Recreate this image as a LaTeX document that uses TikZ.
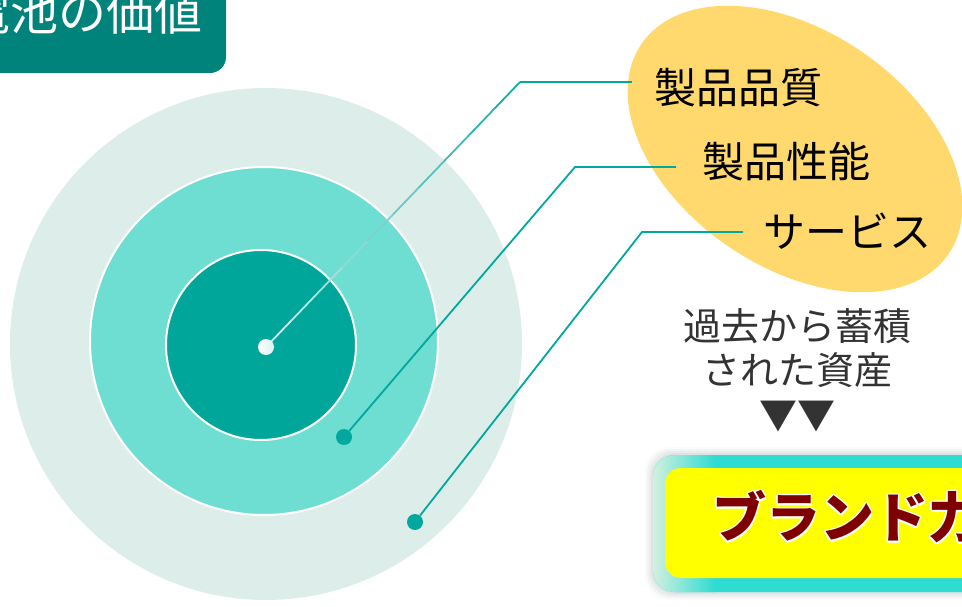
\documentclass[tikz,border=0pt]{standalone}
\usepackage{fontspec}
\newfontfamily\jp{Noto Sans CJK JP}
\usetikzlibrary{shapes.geometric,calc}
\definecolor{outerc}{HTML}{DDEEEA}
\definecolor{midc}{HTML}{6EDDD2}
\definecolor{innerc}{HTML}{00A69A}
\definecolor{linec}{HTML}{00A89E}
\definecolor{titlec}{HTML}{00837A}
\definecolor{ellc}{HTML}{FFD96E}
\definecolor{turq}{HTML}{2EDCD2}
\definecolor{palet}{HTML}{D2F0DE}
\definecolor{brandred}{HTML}{7F0000}
\definecolor{greytext}{HTML}{333333}
\definecolor{brandyellow}{HTML}{FFFF00}
\begin{document}
\begin{tikzpicture}[x=1pt,y=-1pt,
  conn/.style={linec,line width=1.8},
  dotc/.style={circle,fill=linec,minimum size=16,inner sep=0},
  lbl/.style={inner sep=0,font=\jp\fontsize{42}{48}\selectfont},
  sub/.style={inner sep=0,text=greytext,font=\jp\fontsize{38}{44}\selectfont},
  brand/.style={inner sep=0,anchor=west,font=\jp\bfseries\fontsize{54}{60}\selectfont}]
\useasboundingbox (0,0) rectangle (962,607);
\clip (0,0) rectangle (962,607);

% title box
\fill[titlec, rounded corners=16] (-40,-40) rectangle (226,73);
\node[anchor=east, inner sep=0, text=white, font=\jp\fontsize{48}{54}\selectfont] (title) at (203,12) {電池の価値};

% concentric circles
\node[circle, fill=outerc, minimum size=512, inner sep=0] (outer) at (266,344) {};
\node[circle, fill=midc, draw=white, line width=2, minimum size=348, inner sep=0] (mid) at (264,341) {};
\node[circle, fill=innerc, draw=white, line width=2, minimum size=190, inner sep=0] (inner) at (261,345) {};

% ellipse
\node[ellipse, fill=ellc, minimum width=372, minimum height=236, rotate=-34.4, inner sep=0] (ell) at (795,149) {};

% connectors
\coordinate (c1) at (266,347);
\coordinate (k1) at (520,82); \coordinate (e1) at (632,82);
\coordinate (k2) at (575,167); \coordinate (e2) at (676,167);
\coordinate (k3) at (642,232); \coordinate (e3) at (743,232);
\node[dotc] (d2) at (344,437) {};
\node[dotc] (d3) at (415,522) {};
\foreach \i in {0,...,9}{
  \pgfmathsetmacro{\j}{\i+1}
  \pgfmathsetmacro{\c}{20+8*\i}
  \draw[line width=1.8, linec!\c!white] ($(c1)!\i/10!(k1)$) -- ($(c1)!\j/10!(k1)$);
}
\draw[conn] (k1) -- (e1);
\draw[conn] (d2) -- (k2) -- (e2);
\draw[conn] (d3) -- (k3) -- (e3);
\node[circle, minimum size=16, inner sep=0, left color=white, right color=white!85!linec] (d1) at (c1) {};

% labels
\node[lbl] (t1) at (738,88) {製品品質};
\node[lbl] (t2) at (786,162) {製品性能};
\node[lbl] (t3) at (847,231) {サービス};

\node[sub] (s1) at (797,326) {過去から蓄積};
\node[sub] (s2) at (797,370) {された資産};
\node[sub] (s3) at (797,417) {▼▼};

% brand box
\foreach \k/\o in {8/0.02,6/0.03,4/0.04,2/0.05}{
  \fill[black!70!teal, opacity=\o, rounded corners=24] (653-\k,455-\k) rectangle (1010,592+\k);
}
\fill[turq, rounded corners=22] (653,455) rectangle (1010,592);
\begin{scope}
  \clip[rounded corners=22] (653,455) rectangle (1010,592);
  \shade[left color=palet, right color=turq] (653,455) rectangle (715,592);
\end{scope}
\fill[brandyellow, rounded corners=16] (665,468) rectangle (1010,578);
\foreach \dx/\dy in {1.5/0,-1.5/0,0/1.5,0/-1.5,1.1/1.1,-1.1/1.1,1.1/-1.1,-1.1/-1.1}{
  \node[brand, text=white] at (712+\dx,517+\dy) {ブランド力};
}
\node[brand, text=brandred] (brand) at (712,517) {ブランド力};
\end{tikzpicture}
\end{document}
